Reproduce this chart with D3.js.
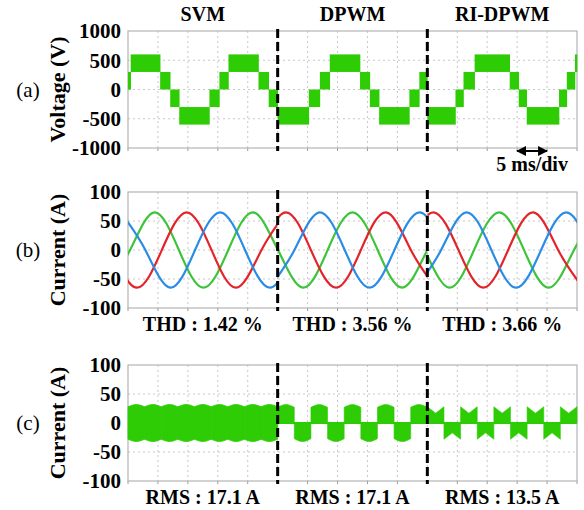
<!DOCTYPE html>
<html><head><meta charset="utf-8">
<script src="https://cdn.jsdelivr.net/npm/d3@7"></script>
<style>html,body{margin:0;padding:0;background:#fff;}svg{display:block;}</style>
</head><body>
<svg id="chart" width="584" height="510"></svg>
<script>
// ---------------- data ----------------
const methods = ["SVM", "DPWM", "RI-DPWM"];
const thdLabels = ["THD : 1.42 %", "THD : 3.56 %", "THD : 3.66 %"];
const rmsLabels = ["RMS : 17.1 A", "RMS : 17.1 A", "RMS : 13.5 A"];
const panelLetters = ["(a)", "(b)", "(c)"];
const axisTitles = ["Voltage (V)", "Current (A)", "Current (A)"];
const voltageTicks = [1000, 500, 0, -500, -1000];
const currentTicks = [100, 50, 0, -50, -100];
const sectionBounds = [0, 25, 50, 75];          // ms
const timeDivMs = 5;                             // 5 ms/div

// (a) phase voltage: PWM bands between breakpoints (ms)
const vBreaks = [0, 0.45, 5.37, 7.05, 8.56, 13.6, 15.27, 16.78, 21.8, 23.5, 25,
                 30.2, 32.05, 33.7, 38.76, 40.4, 41.95, 47.0, 48.66, 50,
                 54.7, 56.04, 57.9, 63.76, 65.27, 66.6, 72.0, 73.3, 74.66, 75];
const vBandLow  = [0, 300, 0, -300, -600, -300, 0, 300, 0, -300,
                   -600, -300, 0, 300, 0, -300, -600, -300, 0,
                   -600, -300, 0, 300, 0, -300, -600, -300, 0, 300];
const vBandHigh = [300, 600, 300, 0, -300, 0, 300, 600, 300, 0,
                   -300, 0, 300, 600, 300, 0, -300, 0, 300,
                   -300, 0, 300, 600, 300, 0, -300, 0, 300, 600];

// (b) three-phase currents [ms, A] per section (peaks / zero crossings)
const iRed = [
  [[-2.65,0],[1.5,-65],[5.65,0],[9.8,65],[13.95,0],[18.1,-65],[22.3,0],[26.45,65]],
  [[22.25,0],[26.4,65],[30.55,0],[34.75,-65],[38.9,0],[43.1,65],[47.25,0],[51.4,-65]],
  [[46.85,0],[51,65],[55.2,0],[59.35,-65],[63.5,0],[67.7,65],[71.85,0],[76,-65]]
];
const iBlue = [
  [[-1.25,65],[2.9,0],[7.05,-65],[11.2,0],[15.4,65],[19.55,0],[23.7,-65],[27.85,0]],
  [[23.65,-65],[27.8,0],[32,65],[36.2,0],[40.35,-65],[44.5,0],[48.7,65],[52.85,0]],
  [[48.15,-65],[52.3,0],[56.5,65],[60.7,0],[64.85,-65],[69,0],[73.2,65],[77.35,0]]
];
const iGreen = [
  [[-3.8,-65],[0.35,0],[4.4,65],[8.5,0],[12.6,-65],[16.75,0],[20.9,65],[25.05,0],[29.2,-65]],
  [[20.9,65],[25.05,0],[29.2,-65],[33.35,0],[37.5,65],[41.7,0],[45.85,-65],[50,0],[54.15,65]],
  [[45.3,65],[49.5,0],[53.65,-65],[57.8,0],[62,65],[66.15,0],[70.35,-65],[74.5,0],[78.7,65]]
];

// (c) current pulses: 9 blocks per section
const blocksPerSection = 9;
const svmEnvelope = [28, 32];     // [edge, middle] A, symmetric band
const dpwmSigns = [1, -1, 1, -1, 1, -1, 1, -1, 1];
const dpwmEnvelope = [27, 32];    // [edge, middle]
const riSigns = [1, -1, 1, -1, 1, -1, 1, -1, 1];
const riEnvelope = [28, 17];      // [edge, middle]

// ---------------- layout ----------------
const svg = d3.select("#chart");
const FONT = "'Liberation Serif','Times New Roman',serif";
const bandGreen = "#2dcc05";
const colRed = "#e3242b", colBlue = "#2b8ce6", colGreen = "#3dc43a";

const x = d3.scaleLinear().domain([0, 75]).range([128, 577]);
const panels = [
  {top: 31, bottom: 148, domain: [-1000, 1000], ticks: voltageTicks},
  {top: 192, bottom: 308, domain: [-100, 100], ticks: currentTicks},
  {top: 365, bottom: 481, domain: [-100, 100], ticks: currentTicks}
];
panels.forEach(p => { p.y = d3.scaleLinear().domain(p.domain).range([p.bottom, p.top]); });

const defs = svg.append("defs");
// clip paths for each section of panel (b)
[0, 1, 2].forEach(s => {
  defs.append("clipPath").attr("id", "secB" + s).append("rect")
    .attr("x", x(sectionBounds[s])).attr("width", x(sectionBounds[s + 1]) - x(sectionBounds[s]))
    .attr("y", panels[1].top).attr("height", panels[1].bottom - panels[1].top);
});

// frames, grids, ticks, labels
panels.forEach((p, i) => {
  const g = svg.append("g");
  const vt = d3.range(timeDivMs, 75, timeDivMs);
  g.selectAll(".gv").data(vt).join("line")
    .attr("x1", d => x(d)).attr("x2", d => x(d))
    .attr("y1", p.top).attr("y2", p.bottom)
    .attr("stroke", "#c8c8c8").attr("stroke-width", 1).attr("stroke-dasharray", "2,3");
  g.selectAll(".gh").data(p.ticks.slice(1, -1)).join("line")
    .attr("x1", x(0)).attr("x2", x(75))
    .attr("y1", d => p.y(d)).attr("y2", d => p.y(d))
    .attr("stroke", "#c8c8c8").attr("stroke-width", 1).attr("stroke-dasharray", "2,3");
  g.selectAll(".tk").data(d3.range(0, 75.01, timeDivMs)).join("line")
    .attr("x1", d => x(d)).attr("x2", d => x(d))
    .attr("y1", p.bottom).attr("y2", p.bottom + 3)
    .attr("stroke", "#9a9a9a").attr("stroke-width", 1);
  g.append("rect").attr("x", x(0)).attr("y", p.top)
    .attr("width", x(75) - x(0)).attr("height", p.bottom - p.top)
    .attr("fill", "none").attr("stroke", "#b4b4b4").attr("stroke-width", 1.2);
  g.selectAll(".yl").data(p.ticks).join("text")
    .attr("x", 121).attr("y", d => p.y(d)).attr("dy", "0.35em")
    .attr("text-anchor", "end").attr("font-family", FONT).attr("font-weight", "bold")
    .attr("font-size", 21).attr("fill", "#000").text(d => d);
  const cy = (p.top + p.bottom) / 2;
  g.append("text").attr("transform", `translate(57,${cy}) rotate(-90)`)
    .attr("text-anchor", "middle").attr("dy", "0.35em")
    .attr("font-family", FONT).attr("font-weight", "bold").attr("font-size", 22)
    .text(axisTitles[i]);
  g.append("text").attr("x", 28).attr("y", cy).attr("dy", "0.35em")
    .attr("text-anchor", "middle").attr("font-family", FONT).attr("font-size", 21)
    .text(panelLetters[i]);
});

// ---- (a) voltage bands
const pa = panels[0];
const gA = svg.append("g");
gA.selectAll("rect.band").data(vBandLow.map((lo, k) => ({t0: vBreaks[k], t1: vBreaks[k + 1], lo, hi: vBandHigh[k]})))
  .join("rect")
  .attr("x", d => x(d.t0)).attr("width", d => x(d.t1) - x(d.t0) + 0.3)
  .attr("y", d => pa.y(d.hi)).attr("height", d => pa.y(d.lo) - pa.y(d.hi))
  .attr("fill", bandGreen);

// ---- (b) currents
const pb = panels[1];
const lineB = d3.line().x(d => x(d[0])).y(d => pb.y(d[1])).curve(d3.curveNatural);
const gB = svg.append("g");
[[iGreen, colGreen], [iRed, colRed], [iBlue, colBlue]].forEach(([series, col]) => {
  series.forEach((seg, s) => {
    gB.append("path").attr("d", lineB(seg)).attr("fill", "none")
      .attr("clip-path", `url(#secB${s})`)
      .attr("stroke", col).attr("stroke-width", 2.2).attr("stroke-linejoin", "round");
  });
});

// ---- (c) pulse currents
const pc = panels[2];
const gC = svg.append("g");
const blockMs = (sectionBounds[1] - sectionBounds[0]) / blocksPerSection;
gC.append("line").attr("x1", x(25)).attr("x2", x(75)).attr("y1", pc.y(0)).attr("y2", pc.y(0))
  .attr("stroke", bandGreen).attr("stroke-width", 2);
const areaSym = d3.area().x(d => x(d[0])).y0(d => pc.y(-d[1])).y1(d => pc.y(d[1])).curve(d3.curveNatural);
d3.range(blocksPerSection).forEach(k => {
  const t0 = sectionBounds[0] + k * blockMs, t1 = t0 + blockMs;
  gC.append("path").attr("fill", bandGreen).attr("stroke", bandGreen).attr("stroke-width", 0.8)
    .attr("d", areaSym([[t0, svmEnvelope[0]], [(t0 + t1) / 2, svmEnvelope[1]], [t1, svmEnvelope[0]]]));
});
function blocks(start, signs, env, curve) {
  const ar = d3.area().x(d => x(d[0])).y0(pc.y(0)).y1(d => pc.y(d[1])).curve(curve);
  signs.forEach((s, k) => {
    const t0 = start + k * blockMs, t1 = t0 + blockMs;
    gC.append("path").attr("fill", bandGreen).attr("stroke", bandGreen).attr("stroke-width", 0.6)
      .attr("d", ar([[t0, s * env[0]], [(t0 + t1) / 2, s * env[1]], [t1, s * env[0]]]));
  });
}
blocks(sectionBounds[1], dpwmSigns, dpwmEnvelope, d3.curveNatural);
blocks(sectionBounds[2], riSigns, riEnvelope, d3.curveLinear);

// ---- section dividers (dashed)
panels.forEach(p => {
  [sectionBounds[1], sectionBounds[2]].forEach(t => {
    svg.append("line").attr("x1", x(t)).attr("x2", x(t))
      .attr("y1", p.top - 2).attr("y2", p.bottom + 3)
      .attr("stroke", "#000").attr("stroke-width", 3).attr("stroke-dasharray", "9,4");
  });
});

// ---- texts
const centers = methods.map((m, i) => (x(sectionBounds[i]) + x(sectionBounds[i + 1])) / 2);
svg.selectAll("text.title").data(methods).join("text")
  .attr("x", (d, i) => centers[i]).attr("y", 21).attr("text-anchor", "middle")
  .attr("font-family", FONT).attr("font-weight", "bold").attr("font-size", 20).text(d => d);
svg.selectAll("text.thd").data(thdLabels).join("text")
  .attr("x", (d, i) => centers[i]).attr("y", 331).attr("text-anchor", "middle")
  .attr("font-family", FONT).attr("font-weight", "bold").attr("font-size", 20).text(d => d);
svg.selectAll("text.rms").data(rmsLabels).join("text")
  .attr("x", (d, i) => centers[i]).attr("y", 504).attr("text-anchor", "middle")
  .attr("font-family", FONT).attr("font-weight", "bold").attr("font-size", 20).text(d => d);

// 5 ms/div marker
const ax0 = x(65), ax1 = x(70), ay = 151;
defs.append("marker").attr("id", "ah").attr("viewBox", "0 0 10 10")
  .attr("refX", 9).attr("refY", 5).attr("markerWidth", 5).attr("markerHeight", 5)
  .attr("orient", "auto-start-reverse")
  .append("path").attr("d", "M0,0L10,5L0,10z").attr("fill", "#000");
svg.append("line").attr("x1", ax0).attr("x2", ax1).attr("y1", ay).attr("y2", ay)
  .attr("stroke", "#000").attr("stroke-width", 2)
  .attr("marker-start", "url(#ah)").attr("marker-end", "url(#ah)");
svg.append("text").attr("x", (ax0 + ax1) / 2).attr("y", 171).attr("text-anchor", "middle")
  .attr("font-family", FONT).attr("font-weight", "bold").attr("font-size", 20).text("5 ms/div");
</script>
</body></html>
